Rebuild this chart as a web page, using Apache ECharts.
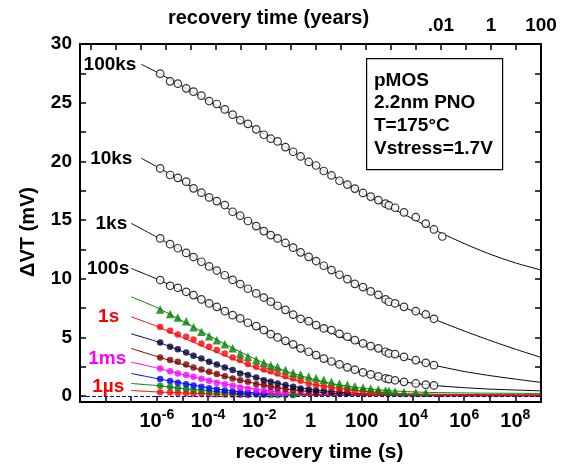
<!DOCTYPE html>
<html>
<head>
<meta charset="utf-8">
<script src="https://cdn.jsdelivr.net/npm/echarts@6/dist/echarts.min.js"></script>
<style>
  html, body { margin: 0; padding: 0; background: #fff; }
  #chart { width: 565px; height: 468px; }
</style>
</head>
<body>
<div id="chart"></div>
<script>
// Recovery times (s) of the measured points
const times = [1.35e-6, 3.3e-6, 6.6e-6, 1.4e-5, 2.7e-5, 5.5e-5, 1.1e-4, 2.2e-4, 4.5e-4, 9.1e-4,
  1.8e-3, 3.6e-3, 7.6e-3, 1.5e-2, 2.8e-2, 5.2e-2, 0.105, 0.21, 0.41, 0.85,
  1.66, 3.3, 6.6, 13.5, 27.5, 54, 112, 224, 447, 851,
  1150, 2000, 4470, 12900, 31600, 66000, 140000];

// Measured ΔVT (mV) after each stress time
const m100ks = [27.47, 26.82, 26.62, 26.22, 25.94, 25.60, 25.14, 24.89, 24.43, 23.98, 23.52, 23.20, 22.73, 22.27, 21.93, 21.70, 21.22, 20.82, 20.42, 19.95, 19.65, 19.18, 18.80, 18.35, 18.02, 17.68, 17.31, 17.00, 16.70, 16.40, 16.25, 16.05, 15.65, 15.25, 14.70, 14.20, 13.60];
const m10ks = [19.40, 18.84, 18.60, 18.27, 17.70, 17.33, 16.93, 16.62, 16.28, 15.71, 15.37, 14.92, 14.49, 14.06, 13.72, 13.44, 13.05, 12.65, 12.25, 11.87, 11.51, 11.11, 10.74, 10.34, 9.97, 9.57, 9.29, 8.92, 8.63, 8.24, 8.04, 7.90, 7.61, 7.24, 6.96, 6.59];
const m1ks = [13.44, 12.95, 12.60, 12.20, 11.85, 11.45, 11.05, 10.70, 10.30, 9.90, 9.55, 9.15, 8.75, 8.40, 8.05, 7.70, 7.35, 6.95, 6.59, 6.39, 6.05, 5.77, 5.63, 5.31, 5.06, 4.77, 4.49, 4.26, 4.07, 3.78, 3.64, 3.58, 3.35, 3.07, 2.84, 2.64];
const m100s = [9.89, 9.40, 9.23, 8.89, 8.61, 8.24, 7.90, 7.61, 7.24, 6.90, 6.62, 6.25, 5.97, 5.63, 5.28, 5.00, 4.71, 4.41, 4.07, 3.78, 3.50, 3.20, 2.95, 2.70, 2.45, 2.25, 2.02, 1.85, 1.68, 1.52, 1.45, 1.35, 1.22, 1.08, 0.98, 0.91];
const m10s = [7.39, 6.99, 6.70, 6.37, 5.86, 5.48, 5.11, 4.77, 4.41, 4.07, 3.64, 3.35, 3.07, 2.84, 2.64, 2.50, 2.22, 1.99, 1.85, 1.68, 1.55, 1.40, 1.22, 1.08, 0.96, 0.85, 0.74, 0.66, 0.57, 0.49, 0.45, 0.40, 0.34, 0.32, 0.28];
const m1s = [5.88, 5.57, 5.26, 5.06, 4.83, 4.49, 4.20, 3.92, 3.64, 3.30, 3.07, 2.73, 2.50, 2.27, 2.13, 1.93, 1.70, 1.51, 1.30, 1.08, 0.95, 0.82, 0.70, 0.60, 0.50, 0.43, 0.37, 0.32, 0.28];
const m100ms = [4.57, 4.20, 4.00, 3.72, 3.43, 3.21, 2.92, 2.70, 2.44, 2.22, 1.93, 1.79, 1.59, 1.36, 1.22, 1.08, 0.94, 0.79, 0.66, 0.57, 0.48, 0.42, 0.36, 0.31, 0.27];
const m10ms = [3.30, 3.07, 2.92, 2.70, 2.44, 2.27, 2.07, 1.88, 1.70, 1.51, 1.36, 1.22, 1.02, 0.94, 0.79, 0.68, 0.60, 0.51, 0.45, 0.37, 0.32];
const m1ms = [2.36, 2.13, 1.93, 1.79, 1.65, 1.48, 1.30, 1.13, 1.02, 0.88, 0.74, 0.62, 0.51, 0.43, 0.37, 0.28, 0.24];
const m100us = [1.45, 1.28, 1.13, 1.02, 0.91, 0.79, 0.68, 0.57, 0.49, 0.40, 0.32, 0.26, 0.22, 0.18];
const m10us = [0.88, 0.77, 0.68, 0.60, 0.51, 0.43, 0.37, 0.32, 0.26, 0.22, 0.19, 0.16, 0.14, 0.12, 0.10, 0.09, 0.08, 0.07];
const m1us = [0.34, 0.30, 0.27, 0.24, 0.21, 0.19, 0.17, 0.15, 0.13, 0.12, 0.11, 0.10];

// Model fits, evaluated per decade of recovery time (s)
const fitTimes = [1e-7, 2.5e-7, 1e-6, 1e-5, 1e-4, 1e-3, 1e-2, 0.1, 1, 10, 100, 1e3, 1e4, 1e5, 1e6, 1e7, 1e8, 1e9];
const f100ks = [null, 28.27, 27.6, 26.4, 25.15, 23.9, 22.6, 21.25, 19.9, 18.6, 17.35, 16.2, 15.1, 14.0, 13.0, 12.1, 11.35, 10.74];
const f10ks = [null, 20.26, 19.55, 18.3, 17.0, 15.7, 14.4, 13.05, 11.75, 10.5, 9.3, 8.2, 7.25, 6.4, 5.55, 4.75, 4.0, 3.30];
const f1ks = [14.72, null, 13.55, 12.35, 11.1, 9.85, 8.6, 7.35, 6.2, 5.2, 4.4, 3.7, 3.05, 2.55, 2.1, 1.75, 1.45, 1.17];
const f100s = [10.88, null, 9.98, 8.95, 7.9, 6.8, 5.7, 4.6, 3.6, 2.7, 2.0, 1.45, 1.1, 0.88, 0.72, 0.6, 0.52, 0.45];
const f10s = [8.46, null, 7.55, 6.4, 5.2, 4.05, 3.0, 2.15, 1.5, 1.0, 0.68, 0.48, 0.36, 0.3, 0.27, 0.25, 0.24, 0.23];
const f1s = [6.76, null, 5.95, 5.0, 4.05, 3.15, 2.3, 1.6, 1.05, 0.68, 0.42, 0.28, 0.2, 0.16, 0.14, 0.13, 0.12, 0.12];
const f100ms = [5.31, null, 4.65, 3.8, 2.95, 2.2, 1.5, 0.95, 0.58, 0.36, 0.22, 0.14, 0.1, 0.08, 0.07, 0.06, 0.06, 0.06];
const f10ms = [4.06, null, 3.38, 2.7, 2.05, 1.5, 1.0, 0.62, 0.38, 0.22, 0.13, 0.08, 0.05, 0.04, 0.03, 0.03, 0.03, 0.03];
const f1ms = [2.90, null, 2.4, 1.85, 1.35, 0.9, 0.55, 0.32, 0.18, 0.1, 0.06, 0.04, 0.03, 0.03, 0.02, 0.02, 0.02, 0.02];
const f100us = [1.93, null, 1.5, 1.1, 0.72, 0.42, 0.26, 0.16, 0.1, 0.07, 0.06, 0.05, 0.05, 0.05, 0.05, 0.05, 0.05, 0.05];
const f10us = [1.08, null, 0.9, 0.65, 0.45, 0.25, 0.16, 0.1, 0.08, 0.07, 0.06, 0.06, 0.06, 0.06, 0.06, 0.06, 0.06, 0.06];
const f1us = [0.48, null, 0.36, 0.27, 0.2, 0.15, 0.12, 0.1, 0.09, 0.08, 0.08, 0.08, 0.08, 0.08, 0.08, 0.08, 0.08, 0.08];

// Axis ticks and labels
const xTicks = [1e-9, 1e-8, 1e-7, 1e-6, 1e-5, 1e-4, 1e-3, 1e-2, 1e-1, 1, 10, 100, 1e3, 1e4, 1e5, 1e6, 1e7, 1e8, 1e9];
const xLabels = [1e-6, 1e-4, 1e-2, 1, 100, 1e4, 1e6, 1e8];
const yearTicks = [1e-16, 1e-15, 1e-14, 1e-13, 1e-12, 1e-11, 1e-10, 1e-9, 1e-8, 1e-7, 1e-6, 1e-5, 1e-4, 1e-3, 1e-2, 1e-1, 1, 10, 100];
const yearLabels = [0.01, 1, 100];
const yTicks = [0, 2.5, 5, 7.5, 10, 12.5, 15, 17.5, 20, 22.5, 25, 27.5, 30];
const yLabels = [0, 5, 10, 15, 20, 25, 30];
const infoLines = ['pMOS', '2.2nm PNO', 'T=175°C', 'Vstress=1.7V'];

const FONT = "'Liberation Sans', Arial, Helvetica, sans-serif";

function pairs(ts, vals) {
  const out = [];
  vals.forEach((v, i) => { if (v != null) out.push([ts[i], v]); });
  return out;
}

function fitSeries(name, vals, color, label) {
  const data = pairs(fitTimes, vals).map((p, i) => {
    if (i === 0 && label) {
      return {
        value: p,
        label: {
          show: true, position: 'left', distance: label.dist,
          offset: [0, label.dy || 0],
          formatter: label.text, color: label.color,
          fontFamily: FONT, fontWeight: 'bold', fontSize: 19
        }
      };
    }
    return p;
  });
  return {
    name: name + ' fit', type: 'line', data: data,
    smooth: 0.2,
    symbol: 'circle', symbolSize: 0, showSymbol: true,
    lineStyle: { color: color, width: 1 },
    itemStyle: { color: color },
    z: 2, silent: true
  };
}

function openSeries(name, vals) {
  return {
    name: name, type: 'scatter', data: pairs(times, vals),
    symbol: 'circle', symbolSize: 7.5,
    itemStyle: { color: '#fff', borderColor: '#000', borderWidth: 1.2 },
    z: 4
  };
}

function filledSeries(name, vals, color, symbol, size) {
  return {
    name: name, type: 'scatter', data: pairs(times, vals),
    symbol: symbol || 'circle', symbolSize: size || 6.5,
    itemStyle: { color: color },
    z: 3
  };
}

const chart = echarts.init(document.getElementById('chart'), null, { renderer: 'canvas' });

const option = {
  backgroundColor: '#fff',
  animation: false,
  textStyle: { fontFamily: FONT },
  grid: { left: 80, right: 24, top: 44, bottom: 66 },
  xAxis: [
    {
      type: 'log', min: 1e-9, max: 1e9, position: 'bottom',
      name: 'recovery time (s)', nameLocation: 'middle', nameGap: 40,
      nameTextStyle: { fontFamily: FONT, fontWeight: 'bold', fontSize: 21, color: '#000', padding: [0, 0, 0, 18] },
      axisLine: { onZero: false, lineStyle: { color: '#000', width: 2 } },
      axisTick: { inside: true, length: 6, customValues: xTicks, lineStyle: { color: '#000', width: 1.5 } },
      axisLabel: {
        customValues: xLabels, margin: 5, color: '#000',
        formatter: function (v) {
          const e = Math.round(Math.log10(v));
          if (e === 0) return '{b|1}';
          if (e === 2) return '{b|100}';
          return '{b|10}{s|' + e + '}';
        },
        rich: {
          b: { fontFamily: FONT, fontWeight: 'bold', fontSize: 20, color: '#000', verticalAlign: 'bottom', lineHeight: 24 },
          s: { fontFamily: FONT, fontWeight: 'bold', fontSize: 14, color: '#000', verticalAlign: 'bottom', lineHeight: 24, padding: [0, 0, 9, 0] }
        }
      },
      splitLine: { show: false }, minorTick: { show: false }
    },
    {
      type: 'log', min: 3.7e-17, max: 100, position: 'top',
      name: 'recovery time (years)', nameLocation: 'middle', nameGap: 16,
      nameMoveOverlap: false,
      nameTextStyle: { fontFamily: FONT, fontWeight: 'bold', fontSize: 20, color: '#000', padding: [0, 84, 0, 0] },
      axisLine: { onZero: false, lineStyle: { color: '#000', width: 2 } },
      axisTick: { inside: true, length: 6, customValues: yearTicks, lineStyle: { color: '#000', width: 1.5 } },
      axisLabel: {
        customValues: yearLabels, margin: 9, color: '#000',
        fontFamily: FONT, fontWeight: 'bold', fontSize: 19,
        formatter: function (v) {
          if (v < 0.5) return '.01';
          return String(Math.round(v));
        }
      },
      splitLine: { show: false }, minorTick: { show: false }
    }
  ],
  yAxis: [
    {
      type: 'value', min: -0.5, max: 30, position: 'left',
      name: 'ΔVT (mV)', nameLocation: 'middle', nameGap: 42, nameRotate: 90,
      nameTextStyle: { fontFamily: FONT, fontWeight: 'bold', fontSize: 20, color: '#000', padding: [0, 18, 0, 0] },
      axisLine: { show: true, onZero: false, lineStyle: { color: '#000', width: 2 } },
      axisTick: { inside: true, length: 6, customValues: yTicks, lineStyle: { color: '#000', width: 1.5 } },
      axisLabel: { customValues: yLabels, margin: 8, color: '#000', fontFamily: FONT, fontWeight: 'bold', fontSize: 19 },
      splitLine: { show: false }
    },
    {
      type: 'value', min: -0.5, max: 30, position: 'right',
      axisLine: { show: true, onZero: false, lineStyle: { color: '#000', width: 2 } },
      axisTick: { inside: true, length: 6, customValues: yTicks, lineStyle: { color: '#000', width: 1.5 } },
      axisLabel: { show: false },
      splitLine: { show: false }
    }
  ],
  series: [
    fitSeries('100ks', f100ks, '#000', { text: '100ks', color: '#000', dist: 5 }),
    fitSeries('10ks', f10ks, '#000', { text: '10ks', color: '#000', dist: 9 }),
    fitSeries('1ks', f1ks, '#000', { text: '1ks', color: '#000', dist: 4 }),
    fitSeries('100s', f100s, '#000', { text: '100s', color: '#000', dist: 2 }),
    fitSeries('10s', f10s, '#008000'),
    fitSeries('1s', f1s, '#ff0000', { text: '1s', color: '#ff0000', dist: 12 }),
    fitSeries('100ms', f100ms, '#000080'),
    fitSeries('10ms', f10ms, '#800000'),
    fitSeries('1ms', f1ms, '#ff00ff', { text: '1ms', color: '#ff00ff', dist: 5, dy: -3 }),
    fitSeries('100µs', f100us, '#0000ff'),
    fitSeries('10µs', f10us, '#008000'),
    fitSeries('1µs', f1us, '#ff0000', { text: '1µs', color: '#ff0000', dist: 7, dy: -4 }),
    {
      name: 'zero', type: 'line', data: [], silent: true,
      markLine: {
        symbol: 'none', silent: true, label: { show: false },
        lineStyle: { color: '#0000ff', type: 'dashed', width: 1 },
        data: [{ yAxis: 0 }]
      }
    },
    filledSeries('1µs', m1us, '#ff0000'),
    filledSeries('10µs', m10us, '#008000'),
    filledSeries('100µs', m100us, '#0000ff'),
    filledSeries('1ms', m1ms, '#ff00ff'),
    filledSeries('10ms', m10ms, '#800000'),
    filledSeries('100ms', m100ms, '#000033'),
    filledSeries('1s', m1s, '#ff0000'),
    filledSeries('10s', m10s, '#008000', 'triangle', 8.5),
    openSeries('100s', m100s),
    openSeries('1ks', m1ks),
    openSeries('10ks', m10ks),
    openSeries('100ks', m100ks)
  ],
  graphic: [
    {
      type: 'rect', left: 366, top: 58, z: 10,
      shape: { width: 136, height: 111 },
      style: { fill: '#fff', stroke: '#000', lineWidth: 1.2 }
    },
    {
      type: 'text', left: 374, top: 69, z: 11,
      style: {
        text: infoLines.join('\n'), fill: '#000',
        font: 'bold 19px ' + FONT, lineHeight: 22.8
      }
    }
  ]
};

chart.setOption(option);
</script>
</body>
</html>
